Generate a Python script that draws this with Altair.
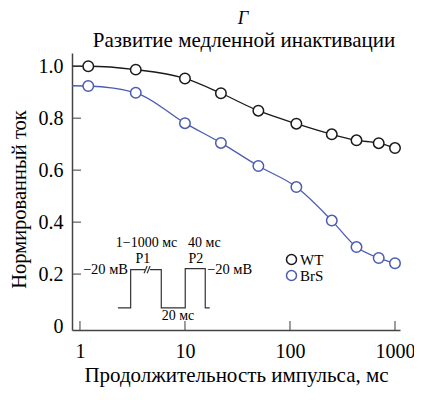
import altair as alt
import pandas as pd

# ---- data ----
durations = [1.2, 3.4, 10, 22, 50, 115, 250, 430, 700, 1000]
wt_current = [1.0, 0.987, 0.953, 0.896, 0.829, 0.779, 0.738, 0.715, 0.704, 0.685]
brs_current = [0.924, 0.898, 0.781, 0.705, 0.616, 0.535, 0.406, 0.304, 0.262, 0.242]
series_names = ["WT", "BrS"]
series_colors = ["#1a1a1a", "#4b5cb3"]
fit_start_x = 0.84
fit_start_values = [1.0, 0.925]

panel_letter = "Г"
panel_title = "Развитие медленной инактивации"

x_ticks = [1, 10, 100, 1000]
y_ticks = [0, 0.2, 0.4, 0.6, 0.8, 1.0]
y_tick_marks = [0.2, 0.4, 0.6, 0.8, 1.0]

# protocol inset (in axis units)
proto_seg = [0, 0, 0, 0, 1, 1, 1, 1, 1, 1, 1, 1, 2, 2, 3, 3]
proto_x = [2.30, 3.04, 3.04, 4.16, 4.64, 5.95, 5.95, 10.06, 10.06, 15.6, 15.6, 17.2, 4.08, 4.36, 4.36, 4.66]
proto_y = [0.070, 0.070, 0.217, 0.217, 0.217, 0.217, 0.070, 0.070, 0.221, 0.221, 0.070, 0.070, 0.203, 0.231, 0.203, 0.231]

center_labels = ["P1", "P2", "20 мс", "1−1000 мс", "40 мс"]
center_x = [3.98, 12.7, 8.58, 4.30, 15.3]
center_y = [0.258, 0.258, 0.037, 0.320, 0.320]
right_labels = ["−20 мВ"]
right_x = [2.87]
right_y = [0.217]
left_labels = ["−20 мВ"]
left_x = [16.2]
left_y = [0.217]

FONT = "'Liberation Serif', 'Times New Roman', Times, serif"
W, H = 328, 277

rows = []
for name, vals in zip(series_names, [wt_current, brs_current]):
    for d, v in zip(durations, vals):
        rows.append({"series": name, "x": d, "y": v})
pts = pd.DataFrame(rows)

line_rows = []
for name, start, vals in zip(series_names, fit_start_values, [wt_current, brs_current]):
    line_rows.append({"series": name, "x": fit_start_x, "y": start})
    for d, v in zip(durations, vals):
        line_rows.append({"series": name, "x": d, "y": v})
lines_df = pd.DataFrame(line_rows)

xscale = alt.Scale(type="log", domain=[0.84, 1116], nice=False)
yscale = alt.Scale(domain=[-0.015, 1.051], nice=False, zero=False)

xenc = alt.X("x:Q", scale=xscale,
             axis=alt.Axis(values=x_ticks, format="d", ticks=False, grid=False,
                           title="Продолжительность импульса, мс",
                           labelFont=FONT, labelFontSize=20, labelColor="black",
                           labelPadding=11, titleFont=FONT, titleFontSize=21,
                           titleFontWeight="normal", titleColor="black", titlePadding=3,
                           domainColor="#444", domainWidth=1.5, labelFlush=False))
yenc = alt.Y("y:Q", scale=yscale,
             axis=alt.Axis(values=y_ticks, ticks=False, grid=False,
                           labelExpr="datum.value == 0 ? '0' : format(datum.value, '.1f')",
                           title="Нормированный ток",
                           labelFont=FONT, labelFontSize=20, labelColor="black",
                           labelPadding=9, titleFont=FONT, titleFontSize=20.5,
                           titleFontWeight="normal", titleColor="black", titlePadding=9,
                           titleY=146,
                           domainColor="#444", domainWidth=1.5))

lines = alt.Chart(lines_df).mark_line(interpolate="monotone", strokeWidth=1.3).encode(
    x=xenc, y=yenc,
    stroke=alt.Stroke("series:N", scale=alt.Scale(domain=series_names, range=series_colors), legend=None),
)

points = alt.Chart(pts).mark_point(shape="circle", filled=False, fill="white", fillOpacity=1,
                                   opacity=1, size=110, strokeWidth=1.5).encode(
    x="x:Q", y="y:Q",
    color=alt.Color("series:N", scale=alt.Scale(domain=series_names, range=series_colors),
                    legend=alt.Legend(title=None, orient="none", legendX=212, legendY=199,
                                      labelFont=FONT, labelFontSize=15, labelColor="black",
                                      symbolType="circle", symbolSize=100, symbolStrokeWidth=1.5,
                                      symbolFillColor="white", rowPadding=-5, labelOffset=1,
                                      padding=0)),
)

xt = alt.Chart(pd.DataFrame({"x": x_ticks})).mark_tick(orient="vertical", size=9, thickness=1.5,
                                                       color="#444").encode(
    x="x:Q", y=alt.value(H - 4.5))
yt = alt.Chart(pd.DataFrame({"y": y_tick_marks})).mark_tick(orient="horizontal", size=9, thickness=1.5,
                                                            color="#444").encode(
    y="y:Q", x=alt.value(4.5))

proto_df = pd.DataFrame({"seg": proto_seg, "x": proto_x, "y": proto_y,
                         "i": list(range(len(proto_x)))})
proto = alt.Chart(proto_df).mark_line(color="#333", strokeWidth=1.2).encode(
    x="x:Q", y="y:Q", detail="seg:N", order="i:Q")

tc = alt.Chart(pd.DataFrame({"t": center_labels, "x": center_x, "y": center_y})).mark_text(
    font=FONT, fontSize=14, color="black", align="center", baseline="middle").encode(
    x="x:Q", y="y:Q", text="t:N")
tr = alt.Chart(pd.DataFrame({"t": right_labels, "x": right_x, "y": right_y})).mark_text(
    font=FONT, fontSize=14.5, color="black", align="right", baseline="middle").encode(
    x="x:Q", y="y:Q", text="t:N")
tl = alt.Chart(pd.DataFrame({"t": left_labels, "x": left_x, "y": left_y})).mark_text(
    font=FONT, fontSize=14.5, color="black", align="left", baseline="middle").encode(
    x="x:Q", y="y:Q", text="t:N")

letter = alt.Chart(pd.DataFrame({"t": [panel_letter]})).mark_text(
    font=FONT, fontSize=18.5, fontStyle="italic", color="black", align="center",
    baseline="alphabetic").encode(text="t:N", x=alt.value(W / 2 + 7), y=alt.value(-29))
subtitle = alt.Chart(pd.DataFrame({"t": [panel_title]})).mark_text(
    font=FONT, fontSize=21, color="black", align="center",
    baseline="alphabetic").encode(text="t:N", x=alt.value(W / 2 + 8), y=alt.value(-6))

chart = alt.layer(lines, points, xt, yt, proto, tc, tr, tl, letter, subtitle).resolve_scale(
    color="independent", stroke="independent"
).properties(
    width=W, height=H,
    autosize=alt.AutoSizeParams(type="none"),
    padding={"left": 64, "top": 45, "right": 14, "bottom": 60},
).configure_view(stroke=None)

chart.save("out.html", embed_options={"renderer": "svg", "actions": False})
